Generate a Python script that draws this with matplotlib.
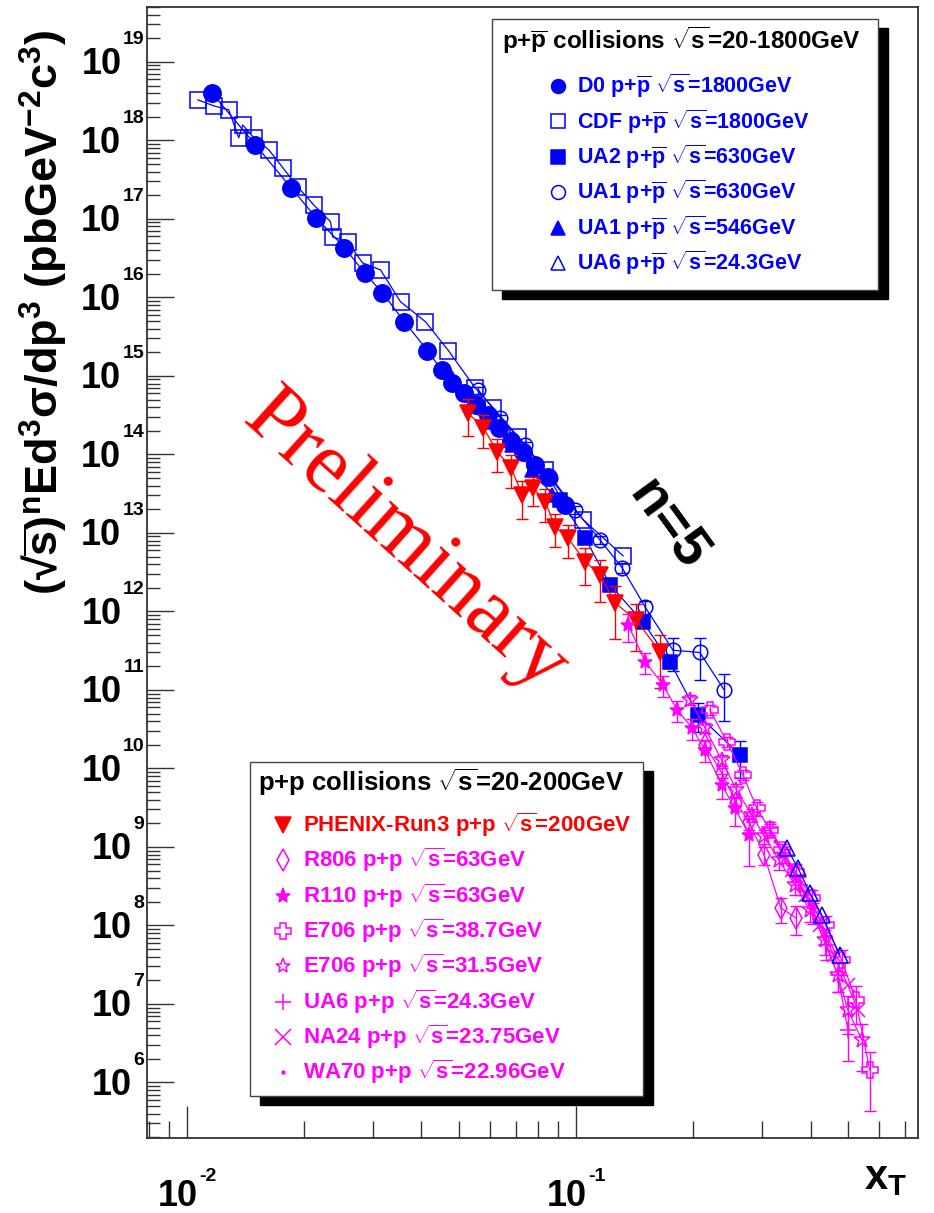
import numpy as np
import matplotlib
matplotlib.use("Agg")
import matplotlib.pyplot as plt
import matplotlib.transforms as mtransforms
from matplotlib.patches import Rectangle
from matplotlib.lines import Line2D
from matplotlib.ticker import LogLocator, NullFormatter

plt.rcParams['font.family'] = ['Liberation Sans', 'DejaVu Sans']
plt.rcParams['font.weight'] = 'bold'
plt.rcParams['mathtext.fontset'] = 'custom'
plt.rcParams['mathtext.rm'] = 'Liberation Sans:bold'
plt.rcParams['mathtext.it'] = 'Liberation Sans:bold'
plt.rcParams['mathtext.bf'] = 'Liberation Sans:bold'
plt.rcParams['mathtext.sf'] = 'Liberation Sans:bold'

# ---------------- data: x_T and (sqrt s)^5 E d3sigma/dp3 ----------------
# p + pbar
d0_x = [0.0116, 0.0150, 0.0185, 0.0215, 0.0254, 0.0286, 0.0318, 0.0362, 0.0415, 0.0451,
        0.0481, 0.0516, 0.0554, 0.0595, 0.0635, 0.0681, 0.0731, 0.0785, 0.0848, 0.0935]
d0_y = [4.0e18, 8.8e17, 2.5e17, 1.03e17, 4.3e16, 2.05e16, 1.14e16, 4.9e15, 2.1e15, 1.19e15,
        8.1e14, 6.1e14, 4.3e14, 3.2e14, 2.2e14, 1.5e14, 1.08e14, 7.3e13, 5.2e13, 2.3e13]

cdf_x = [0.01067, 0.01173, 0.01281, 0.01359, 0.01392, 0.01485, 0.01623, 0.01763, 0.01926, 0.02116,
         0.02340, 0.02368, 0.02587, 0.02827, 0.03144, 0.03538, 0.04101, 0.04697, 0.05508, 0.06127,
         0.07099, 0.08327, 0.1042, 0.1320]
cdf_y = [3.28e18, 2.75e18, 2.45e18, 1.08e18, 1.57e18, 1.08e18, 7.6e17, 4.5e17, 2.56e17, 1.51e17,
         9.2e16, 5.9e16, 5.1e16, 2.75e16, 2.24e16, 8.8e15, 4.9e15, 2.1e15, 7.0e14, 3.9e14,
         1.67e14, 6.4e13, 1.47e13, 5.1e12]

ua2_x = [0.0910, 0.1055, 0.1222, 0.1486, 0.1742, 0.2055, 0.2634]
ua2_y = [2.63e13, 8.6e12, 2.18e12, 7.3e11, 2.27e11, 4.8e10, 1.49e10]
ua2_err = [0.1, 0.1, 0.1, 0.12, 0.15, 0.4, 0.5]

ua1_630_x = [0.0561, 0.0638, 0.0740, 0.0858, 0.0994, 0.1152, 0.1312, 0.1503, 0.1773, 0.2078, 0.2396]
ua1_630_y = [6.6e14, 2.92e14, 1.32e14, 5.0e13, 1.96e13, 8.1e12, 3.6e12, 1.14e12, 3.2e11, 3.0e11, 1.01e11]
ua1_630_err = [0.1, 0.1, 0.1, 0.1, 0.12, 0.12, 0.15, 0.2, 0.45, 0.55, 0.6]

ua1_546_x = [0.0481, 0.0541, 0.0609, 0.0685, 0.0771, 0.0868]
ua1_546_y = [9.4e14, 4.7e14, 2.6e14, 1.32e14, 6.4e13, 3.05e13]

ua6_pbar_x = [0.3475, 0.3710, 0.3981, 0.4274, 0.4753]
ua6_pbar_y = [9.7e8, 5.4e8, 2.6e8, 1.36e8, 4.2e7]

# p + p
phenix_x = [0.0526, 0.0578, 0.0627, 0.0681, 0.0727, 0.0776, 0.0833, 0.0884, 0.0953, 0.1055,
            0.1151, 0.1259, 0.1425, 0.1642]
phenix_y = [3.4e14, 2.18e14, 1.08e14, 6.7e13, 3.05e13, 3.7e13, 2.48e13, 1.19e13, 8.6e12, 4.3e12,
            2.92e12, 1.28e12, 7.8e11, 3.05e11]
phenix_err = [0.5, 0.45, 0.45, 0.45, 0.5, 0.4, 0.45, 0.45, 0.45, 0.5, 0.55, 0.65, 0.6, 0.65]

r806_x = [0.2140, 0.2364, 0.2580, 0.2782, 0.3037, 0.3354, 0.3663]
r806_y = [2.0e10, 8.8e9, 3.6e9, 2.08e9, 7.9e8, 1.67e8, 1.25e8]
r806_err = [0.15, 0.15, 0.2, 0.2, 0.25, 0.35, 0.4]

r110_x = [0.1360, 0.1505, 0.1672, 0.1814, 0.1984, 0.2140, 0.2364, 0.2557, 0.2782]
r110_y = [6.7e11, 2.28e11, 1.16e11, 5.6e10, 3.3e10, 1.72e10, 6.2e9, 3.1e9, 1.42e9]
r110_err = [0.4, 0.3, 0.3, 0.3, 0.3, 0.3, 0.35, 0.4, 0.6]

e706_387_x = [0.2203, 0.2439, 0.2680, 0.2911, 0.3143, 0.3375, 0.3663, 0.4029, 0.4375, 0.4810,
              0.5224, 0.5675]
e706_387_y = [5.6e10, 2.18e10, 8.3e9, 3.1e9, 1.65e9, 9.2e8, 4.8e8, 2.24e8, 1.01e8, 3.6e7,
              1.12e7, 1.44e6]
e706_387_err = [0.15, 0.15, 0.15, 0.2, 0.2, 0.2, 0.25, 0.25, 0.3, 0.35, 0.5, 0.7]

e706_315_x = [0.1960, 0.2140, 0.2364, 0.2580, 0.2827, 0.3037, 0.3315, 0.3643, 0.3981, 0.4350,
              0.4697, 0.4985, 0.5411]
e706_315_y = [7.5e10, 3.3e10, 1.28e10, 5.3e9, 2.56e9, 1.38e9, 6.8e8, 3.3e8, 1.57e8, 6.5e7,
              2.34e7, 8.4e6, 3.5e6]
e706_315_err = [0.15, 0.15, 0.15, 0.2, 0.2, 0.2, 0.25, 0.25, 0.3, 0.35, 0.4, 0.5, 0.6]

ua6_pp_x = [0.3143, 0.3434, 0.3753, 0.4052, 0.4375, 0.4697, 0.4985]
ua6_pp_y = [1.75e9, 7.9e8, 3.3e8, 1.49e8, 5.6e7, 2.34e7, 4.7e6]
ua6_pp_err = [0.2, 0.2, 0.25, 0.3, 0.35, 0.4, 0.6]

na24_x = [0.3578, 0.3890, 0.4224, 0.4586, 0.4981, 0.5285]
na24_y = [5.1e8, 2.45e8, 1.01e8, 4.2e7, 1.75e7, 8.4e6]

wa70_x = [0.3237, 0.3515, 0.3865, 0.4224, 0.4613]
wa70_y = [1.2e9, 5.8e8, 2.7e8, 1.2e8, 4.6e7]

# ---------------- styling ----------------
BLUE = '#0000ff'
RED = '#ff0000'
MAG = '#ff00ff'

W, H = 934, 1213
fig = plt.figure(figsize=(W / 100, H / 100), dpi=100)
fig.patch.set_facecolor('white')


def fx(px):
    return px / W


def fy(py):
    return 1 - py / H


ax = fig.add_axes([fx(147), fy(1138), (918 - 147) / W, (1138 - 7) / H])
ax.set_xscale('log')
ax.set_yscale('log')
ax.set_xlim(0.0079, 0.755)
ax.set_ylim(1.96e5, 5.0e19)


def draw_series(x, y, marker, color, ms, filled=True, err=None, mew=1.1, z=3):
    x = np.asarray(x, float)
    y = np.asarray(y, float)
    order = np.argsort(x)
    ax.plot(x[order], y[order], '-', color=color, lw=0.9, zorder=z)
    if err is not None:
        e = np.asarray(err, float) * y
        ax.errorbar(x, y, yerr=[e, e], fmt='none', ecolor=color, elinewidth=1.0,
                    capsize=4, capthick=1.0, zorder=z)
    ax.plot(x, y, ls='none', marker=marker, ms=ms,
            mfc=color if filled else 'none', mec=color, mew=mew, zorder=z + 0.1)


draw_series(cdf_x, cdf_y, 's', BLUE, 11, filled=False, z=3)
draw_series(d0_x, d0_y, 'o', BLUE, 12.5, z=3.2)
draw_series(ua1_546_x, ua1_546_y, '^', BLUE, 10, z=3.1)
draw_series(ua1_630_x, ua1_630_y, 'o', BLUE, 10.5, filled=False, err=ua1_630_err, z=3.3)
draw_series(ua2_x, ua2_y, 's', BLUE, 10, err=ua2_err, z=3.4)
draw_series(phenix_x, phenix_y, 'v', RED, 11, err=phenix_err, z=4)
draw_series(r110_x, r110_y, '*', MAG, 11, err=r110_err, z=4.2)
draw_series(r806_x, r806_y, 'd', MAG, 11, filled=False, err=r806_err, z=4.2)
draw_series(e706_387_x, e706_387_y, 'P', MAG, 12, filled=False, err=e706_387_err, z=4.3)
draw_series(e706_315_x, e706_315_y, '*', MAG, 12, filled=False, err=e706_315_err, z=4.3)
draw_series(ua6_pp_x, ua6_pp_y, '+', MAG, 12, err=ua6_pp_err, z=4.4)
draw_series(na24_x, na24_y, 'x', MAG, 10, z=4.4)
draw_series(wa70_x, wa70_y, '.', MAG, 4, z=4.4)
draw_series(ua6_pbar_x, ua6_pbar_y, '^', BLUE, 11, filled=False, z=4.5)

# ---------------- axes, ticks ----------------
for s in ax.spines.values():
    s.set_color('#333333')
    s.set_linewidth(1.3)

ax.xaxis.set_major_locator(LogLocator(10, numticks=20))
ax.xaxis.set_minor_locator(LogLocator(10, subs=np.arange(2, 10), numticks=20))
ax.yaxis.set_major_locator(LogLocator(10, numticks=30))
ax.yaxis.set_minor_locator(LogLocator(10, subs=np.arange(2, 10), numticks=30))
for axis in (ax.xaxis, ax.yaxis):
    axis.set_major_formatter(NullFormatter())
    axis.set_minor_formatter(NullFormatter())
ax.tick_params(axis='x', which='major', direction='in', length=23, width=1.0,
               color='#333333', top=False)
ax.tick_params(axis='x', which='minor', direction='in', length=12, width=1.0,
               color='#333333', top=False)
ax.tick_params(axis='y', which='major', direction='in', length=19.5, width=1.0,
               color='#333333', right=False)
ax.tick_params(axis='y', which='minor', direction='in', length=9.5, width=1.0,
               color='#333333', right=False)

# tick labels: large "10" with a small raised exponent
ytrans = mtransforms.blended_transform_factory(ax.transAxes, ax.transData)
for e in range(6, 20):
    t_exp = ax.annotate(str(e), xy=(0, 10.0 ** e), xycoords=ytrans, xytext=(-3, 22),
                        textcoords='offset pixels', ha='right', va='center',
                        fontsize=14, fontweight='bold', annotation_clip=False)
    ax.annotate('10', xy=(0, 0.5), xycoords=t_exp, xytext=(-1, -25),
                textcoords='offset pixels', ha='right', va='center',
                fontsize=26, fontweight='bold', annotation_clip=False)

xtrans = mtransforms.blended_transform_factory(ax.transData, ax.transAxes)
for e in (-2, -1):
    base = ax.annotate('10', xy=(10.0 ** e, 0), xycoords=xtrans, xytext=(-9, -58),
                       textcoords='offset pixels', ha='center', va='center',
                       fontsize=26, fontweight='bold', annotation_clip=False)
    ax.annotate(str(e), xy=(1, 1), xycoords=base, xytext=(1, 2),
                textcoords='offset pixels', ha='left', va='center',
                fontsize=14, fontweight='bold', annotation_clip=False)

fig.text(fx(886), fy(1178), r'$\mathrm{x_{T}}$', fontsize=30, ha='center', va='center')
fig.text(fx(44), fy(312),
         r'(√$\overline{\mathrm{s}}$)$^{\mathrm{n}}$Ed$^{3}$σ/dp$^{3}$ (pbGeV$^{-2}$c$^{3}$)',
         rotation=90, fontsize=32.5, ha='center', va='center')

# ---------------- annotations ----------------
fig.text(fx(405), fy(543), 'Preliminary', rotation=-42, color=RED, fontsize=62,
         family='Liberation Serif', fontweight='normal', ha='center', va='center',
         rotation_mode='anchor', zorder=6)
fig.text(fx(668), fy(525), 'n=5', rotation=-54, color='black', fontsize=40,
         fontweight='bold', ha='center', va='center', rotation_mode='anchor', zorder=6)


# ---------------- legend boxes ----------------
def box(x0, y0, x1, y1, shadow=10):
    fig.add_artist(Rectangle((fx(x0 + shadow), fy(y1 + shadow * 0.9)), (x1 - x0) / W,
                             (y1 - y0) / H, transform=fig.transFigure,
                             facecolor='black', edgecolor='black', zorder=7))
    fig.add_artist(Rectangle((fx(x0), fy(y1)), (x1 - x0) / W, (y1 - y0) / H,
                             transform=fig.transFigure, facecolor='white',
                             edgecolor='#444444', lw=1.0, zorder=8))


def entry(mx, tx, y, marker, color, ms, filled, label, size):
    fig.add_artist(Line2D([fx(mx)], [fy(y)], transform=fig.transFigure, ls='none',
                          marker=marker, ms=ms, mfc=color if filled else 'none',
                          mec=color, mew=1.1, zorder=9))
    fig.text(fx(tx), fy(y), label, color=color, fontsize=size, ha='left',
             va='center', zorder=9)


PB = r'p+$\overline{\mathrm{p}}$ $\sqrt{\mathrm{s}}$'
PP = r'p+p $\sqrt{\mathrm{s}}$'

box(492, 19, 878, 290)
fig.text(fx(502), fy(40), r'p+$\overline{\mathrm{p}}$ collisions $\sqrt{\mathrm{s}}$=20-1800GeV',
         color='black', fontsize=17.5, ha='left', va='center', zorder=9)
top_entries = [
    ('o', True, 'D0 ' + PB + '=1800GeV'),
    ('s', False, 'CDF ' + PB + '=1800GeV'),
    ('s', True, 'UA2 ' + PB + '=630GeV'),
    ('o', False, 'UA1 ' + PB + '=630GeV'),
    ('^', True, 'UA1 ' + PB + '=546GeV'),
    ('^', False, 'UA6 ' + PB + '=24.3GeV'),
]
for i, (m, f, lab) in enumerate(top_entries):
    entry(558, 577, 86 + 35.4 * i, m, BLUE, 10, f, lab, 15.5)

box(250, 762, 643, 1096)
fig.text(fx(258), fy(782), r'p+p collisions $\sqrt{\mathrm{s}}$=20-200GeV',
         color='black', fontsize=18.5, ha='left', va='center', zorder=9)
bottom_entries = [
    ('v', True, RED, 'PHENIX-Run3 ' + PP + '=200GeV'),
    ('d', False, MAG, 'R806 ' + PP + '=63GeV'),
    ('*', True, MAG, 'R110 ' + PP + '=63GeV'),
    ('P', False, MAG, 'E706 ' + PP + '=38.7GeV'),
    ('*', False, MAG, 'E706 ' + PP + '=31.5GeV'),
    ('+', True, MAG, 'UA6 ' + PP + '=24.3GeV'),
    ('x', True, MAG, 'NA24 ' + PP + '=23.75GeV'),
    ('.', True, MAG, 'WA70 ' + PP + '=22.96GeV'),
]
for i, (m, f, c, lab) in enumerate(bottom_entries):
    ms = 4 if m == '.' else 11
    entry(283, 303, 825 + 35.3 * i, m, c, ms, f, lab, 16)

fig.savefig('out.png', dpi=100, facecolor='white')
